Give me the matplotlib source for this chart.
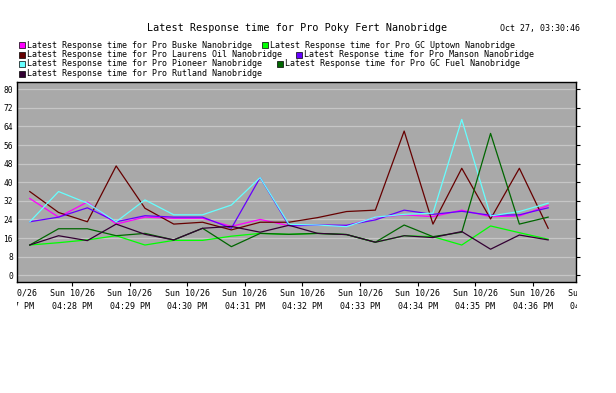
import matplotlib
matplotlib.use('Agg')
import matplotlib.pyplot as plt
from matplotlib.patches import Rectangle
from matplotlib.transforms import Bbox, TransformedBbox

plt.rcParams['font.family'] = 'DejaVu Sans Mono'

# sample times (PM) and response times per nanobridge
times = ['16:27:16', '16:27:46', '16:28:16', '16:28:46', '16:29:16', '16:29:46',
         '16:30:16', '16:30:46', '16:31:16', '16:31:46', '16:32:16', '16:32:46',
         '16:33:16', '16:33:46', '16:34:16', '16:34:46', '16:35:16', '16:35:46',
         '16:36:16']
buske = [33, 25, 31.5, 22, 25, 24.5, 24.5, 21, 24, 21.3, 21.5, 21.3, 24.8, 26, 25.2, 28, 25.2, 25.5, 30]
gc_uptown = [13, 14, 15.2, 17, 13, 15, 15, 16.8, 18, 17.6, 18, 17.5, 14.2, 17, 16.6, 13, 21.2, 18.3, 15.5]
laurens_oil = [36, 27, 23, 47, 28.8, 22, 22.8, 19.5, 22.8, 22.8, 24.8, 27.4, 28, 62, 22, 46, 24.2, 46, 20.2]
manson = [23, 25, 29, 23, 25.6, 25, 25, 20.2, 42, 21.3, 21.6, 21.5, 23.8, 28, 26.2, 27.5, 25.8, 26, 29]
pioneer = [23, 36, 31, 23, 32.4, 26, 26, 30.2, 42, 21.9, 21.6, 20.9, 25, 26.2, 26.7, 67, 25.5, 27.4, 31]
gc_fuel = [13, 20, 20, 17, 18, 15.2, 20.2, 12.3, 18, 17.6, 18, 17.5, 14.2, 21.6, 16.6, 18.5, 61, 22, 25]
rutland = [13, 17, 14.9, 22, 17.6, 15.2, 20.2, 21, 18.5, 21.5, 18, 17.5, 14.2, 17, 16.2, 18.8, 11.2, 17.3, 15.2]

tick_minutes = [27, 28, 29, 30, 31, 32, 33, 34, 35, 36, 37]
yticks = [0, 8, 16, 24, 32, 40, 48, 56, 64, 72, 80]

series = [
    ('Latest Response time for Pro Buske Nanobridge', buske, '#ff00ff'),
    ('Latest Response time for Pro GC Uptown Nanobridge', gc_uptown, '#00ff00'),
    ('Latest Response time for Pro Laurens Oil Nanobridge', laurens_oil, '#660000'),
    ('Latest Response time for Pro Manson Nanobridge', manson, '#6600ff'),
    ('Latest Response time for Pro Pioneer Nanobridge', pioneer, '#66ffff'),
    ('Latest Response time for Pro GC Fuel Nanobridge', gc_fuel, '#006600'),
    ('Latest Response time for Pro Rutland Nanobridge', rutland, '#330033'),
]


def to_min(t):
    h, m, s = map(int, t.split(':'))
    return (h - 16) * 60 + m + s / 60


x = [to_min(t) for t in times]

W, H = 616, 393
fig = plt.figure(figsize=(W / 100, H / 100), dpi=100)
fig.patch.set_facecolor('white')

# plot box in pixels
L, R, T, B = 17, 576, 82, 282
ax = fig.add_axes([L / W, 1 - B / H, (R - L) / W, (B - T) / H])
ax.set_facecolor('#a9a9a9')
for s in ax.spines.values():
    s.set_color('black')
    s.set_linewidth(1.0)

for lbl, vals, col in series:
    ax.plot(x, vals, color=col, linewidth=0.9, label=lbl)

ax.set_xlim(27.045, 36.75)
ax.set_ylim(-2.9, 83.1)

ax.set_yticks(yticks)
ax.set_yticklabels([str(v) for v in yticks], fontsize=5.7)
ax.yaxis.grid(True, color='#c6c6c6', linewidth=0.9)
ax.set_axisbelow(True)
ax.tick_params(axis='y', left=False, right=True, direction='out', length=3,
               width=0.8, pad=0, labelleft=True)

# x ticks with labels; labels clipped to chart region
clip = TransformedBbox(Bbox([[L / W, 0], [577 / W, 1]]), fig.transFigure)
ax.set_xticks([m for m in tick_minutes if 27.045 <= m <= 36.75])
ax.set_xticklabels([])
ax.tick_params(axis='x', bottom=True, direction='out', length=3, width=0.8)
for m in tick_minutes:
    t = ax.text(m, -0.035, 'Sun 10/26\n04:%02d PM' % m, transform=ax.get_xaxis_transform(),
                ha='center', va='top', fontsize=6, linespacing=1.55)
    t.set_clip_box(clip)
    t.set_clip_on(True)

fig.text(297 / W, 1 - 28 / H, 'Latest Response time for Pro Poky Fert Nanobridge',
         ha='center', va='center', fontsize=7.3)
fig.text(580 / W, 1 - 29 / H, 'Oct 27, 03:30:46', ha='right', va='center', fontsize=6)

# legend, laid out in rows like the original
legend_pos = [(19, 45), (262, 45), (19, 54.5), (296, 54.5), (19, 64), (277, 64), (19, 74)]
for (lbl, vals, col), (px, py) in zip(series, legend_pos):
    fig.patches.append(Rectangle((px / W, 1 - (py + 3) / H), 5.5 / W, 5.5 / H,
                                 transform=fig.transFigure, facecolor=col,
                                 edgecolor='black', linewidth=0.5))
    fig.text((px + 8) / W, 1 - py / H, lbl, ha='left', va='center', fontsize=6)

fig.savefig('out.png', dpi=100)
